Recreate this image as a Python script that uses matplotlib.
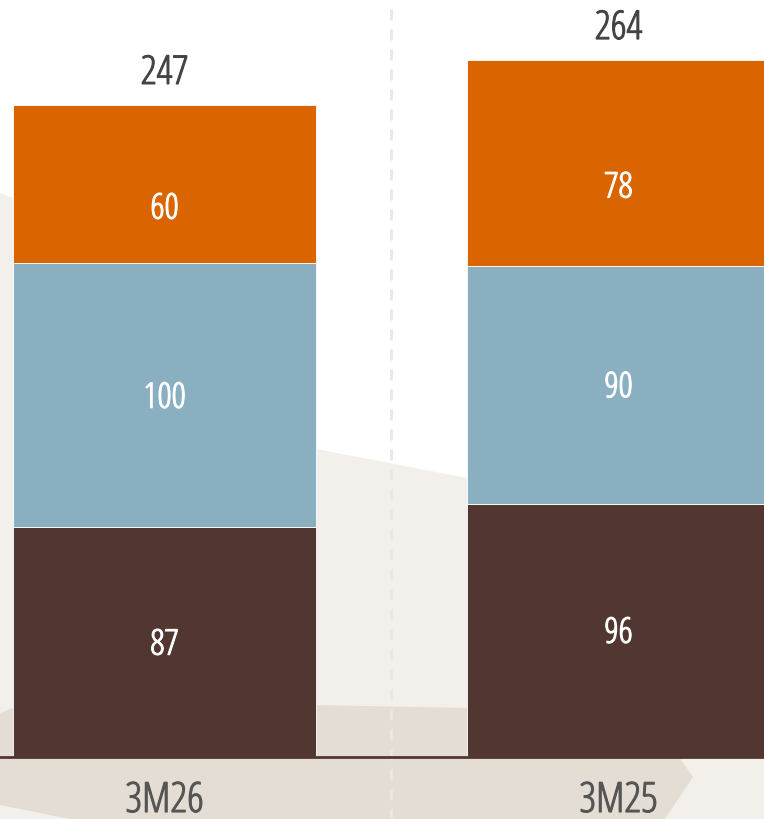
import matplotlib
matplotlib.use("Agg")
import matplotlib.pyplot as plt
from matplotlib.patches import Polygon
from matplotlib import font_manager as fm
import matplotlib.patheffects as pe
import numpy as np

categories = ["3M26", "3M25"]
bottom_vals = [87, 96]
middle_vals = [100, 90]
top_vals = [60, 78]
totals = [247, 264]

c_bottom = "#523631"
c_middle = "#8aafc0"
c_top = "#d96400"

W, H = 764, 819
fig = plt.figure(figsize=(W / 100, H / 100), dpi=100)
fig.patch.set_facecolor("white")

# background decorative shapes (pixel coordinates)
bg = fig.add_axes([0, 0, 1, 1], zorder=0)
bg.set_xlim(0, W)
bg.set_ylim(H, 0)
bg.axis("off")
light = [(0, 193), (13, 198), (316, 449), (467, 478), (764, 535), (764, 819), (0, 819)]
dark = [(0, 713), (13, 708), (316, 705), (467, 708), (650, 715), (693, 777),
        (665, 819), (70, 819), (0, 805)]
bg.add_patch(Polygon(light, closed=True, facecolor="#f3f0eb", edgecolor="none"))
bg.add_patch(Polygon(dark, closed=True, facecolor="#e4ddd4", edgecolor="none"))

base_px = 757
px_per_unit = 2.64
ax = fig.add_axes([0, (H - base_px) / H, 1, base_px / H], zorder=1)
ax.patch.set_alpha(0)
ax.set_ylim(0, base_px / px_per_unit)
x = np.arange(len(categories))
step = 454.0
left = 0 - 164.5 / step
ax.set_xlim(left, left + W / step)
for s in ax.spines.values():
    s.set_visible(False)
ax.set_xticks([])
ax.set_yticks([])

# dashed separator
ax.axvline(0.5, ymin=-0.1, ymax=1, clip_on=False, color="#ebe7e2", lw=2,
           dashes=(4, 3.2), zorder=0.5)

width = 303 / step
b = np.array(bottom_vals, dtype=float)
m = np.array(middle_vals, dtype=float)
t = np.array(top_vals, dtype=float)
kw = dict(width=width, edgecolor="white", linewidth=0.6, zorder=2)
ax.bar(x, b, color=c_bottom, **kw)
ax.bar(x, m, bottom=b, color=c_middle, **kw)
ax.bar(x, t, bottom=b + m, color=c_top, **kw)

ax.axhline(0, color=c_bottom, lw=2, zorder=3, clip_on=False)


def fp(size):
    return fm.FontProperties(family=["Open Sans", "DejaVu Sans"], stretch="condensed", size=size)


def thick(color):
    return [pe.withStroke(linewidth=0.8, foreground=color)]


for i in range(len(categories)):
    for val, bot, extra in [(b[i], 0, 0), (m[i], b[i], 0), (t[i], b[i] + m[i], -22)]:
        ax.annotate(f"{int(val)}", (x[i], bot + val / 2), xytext=(0, -12.5 + extra),
                    textcoords="offset pixels", ha="center", va="baseline",
                    color="white", fontproperties=fp(25.5), zorder=4,
                    path_effects=thick("white"))
    ax.annotate(f"{totals[i]}", (x[i], b[i] + m[i] + t[i]), xytext=(0, 21),
                textcoords="offset pixels", ha="center", va="baseline",
                color="#444444", fontproperties=fp(28.5), zorder=4,
                path_effects=thick("#444444"))
    ax.annotate(categories[i], (x[i], 0), xytext=(0, -55),
                textcoords="offset pixels", ha="center", va="baseline",
                color="#555555", fontproperties=fp(30), annotation_clip=False, zorder=4,
                path_effects=thick("#555555"))

fig.savefig("out.png", dpi=100)
